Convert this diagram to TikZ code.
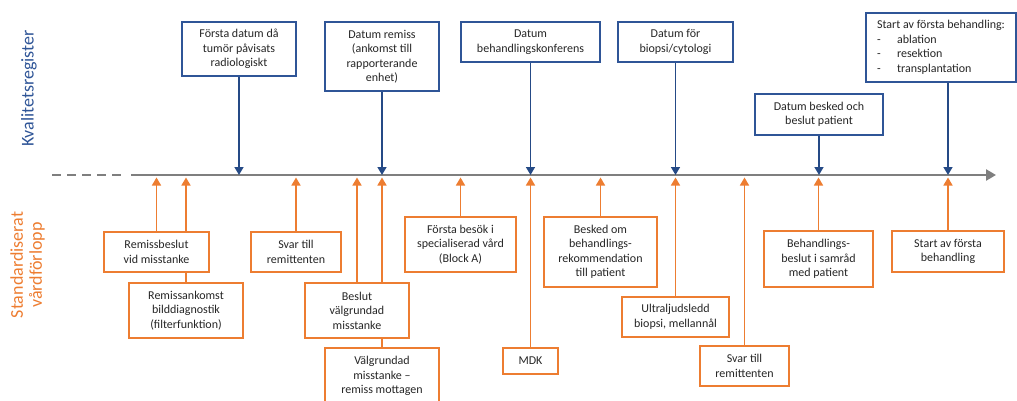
\documentclass[tikz,border=0pt]{standalone}
\usepackage{fontspec}
\setmainfont{Carlito}
\usetikzlibrary{arrows.meta}
\definecolor{oc}{HTML}{ED7D31}
\definecolor{bc}{HTML}{2F5597}
\definecolor{ba}{HTML}{254A86}
\definecolor{axc}{HTML}{7F7F7F}
\definecolor{tx}{HTML}{262626}
\pgfdeclarelayer{bg}
\pgfsetlayers{bg,main}
\begin{document}
\begin{tikzpicture}[x=1pt,y=-1pt,
  font=\fontsize{12}{14.5}\selectfont,
  tbox/.style={draw=bc, line width=1.5pt, fill=white, align=center, inner sep=0pt, text=tx},
  obox/.style={draw=oc, line width=1.5pt, fill=white, align=center, inner sep=0pt, text=tx},
  barrow/.style={draw=ba, line width=1.5pt, -{Triangle[length=8pt,width=9pt]}},
  oarrow/.style={draw=oc, line width=1.5pt, -{Triangle[length=8pt,width=9pt]}, shorten >=2.5pt},
  axisline/.style={draw=axc, line width=2.6pt},
  biglabel/.style={rotate=90, align=center, font=\fontsize{18}{19}\selectfont}
]
\useasboundingbox (0,0) rectangle (1017,401);

% axis coordinates
\coordinate (dA) at (52,175);
\coordinate (dB) at (122,175);
\coordinate (axL) at (131,175);
\coordinate (axR) at (996,175);

% side labels
\node[biglabel, text=bc] (kr) at (29,88.5) {Kvalitetsregister};
\node[biglabel, text=oc] (sv) at (27.5,265) {Standardiserat\\vårdförlopp};

% top boxes
\node[tbox, minimum width=114pt, minimum height=54pt] (t1) at (239,49) {Första datum då\\tumör påvisats\\radiologiskt};
\node[tbox, minimum width=114pt, minimum height=69pt] (t2) at (382,56.5) {Datum remiss\\(ankomst till\\rapporterande\\enhet)};
\node[tbox, minimum width=139pt, minimum height=40pt] (t3) at (530.5,42) {Datum\\behandlingskonferens};
\node[tbox, minimum width=115pt, minimum height=40pt] (t4) at (675.5,42) {Datum för\\biopsi/cytologi};
\node[tbox, minimum width=128pt, minimum height=41pt] (t5) at (819,114.5) {Datum besked och\\beslut patient};
\node[tbox, minimum width=150pt, minimum height=69pt, align=left] (t6) at (941,47.5) {Start av första behandling:\\\makebox[20pt][l]{-}ablation\\\makebox[20pt][l]{-}resektion\\\makebox[20pt][l]{-}transplantation};

% bottom boxes
\node[obox, minimum width=105pt, minimum height=40pt] (a) at (156.5,252) {Remissbeslut\\vid misstanke};
\node[obox, minimum width=114pt, minimum height=55pt] (b) at (186,310.5) {Remissankomst\\bilddiagnostik\\(filterfunktion)};
\node[obox, minimum width=90pt, minimum height=40pt] (c) at (296,252) {Svar till\\remittenten};
\node[obox, minimum width=104pt, minimum height=55pt] (d) at (357,310.5) {Beslut\\välgrundad\\misstanke};
\node[obox, minimum width=114pt, minimum height=56pt] (e) at (382,376) {Välgrundad\\misstanke –\\remiss mottagen};
\node[obox, minimum width=111pt, minimum height=55pt] (f) at (460.5,244.5) {Första besök i\\specialiserad vård\\(Block A)};
\node[obox, minimum width=55pt, minimum height=26pt] (g) at (530.5,361) {MDK};
\node[obox, minimum width=113pt, minimum height=70pt] (h) at (600.5,252) {Besked om\\behandlings-\\rekommendation\\till patient};
\node[obox, minimum width=107pt, minimum height=40pt] (i) at (675.5,317) {Ultraljudsledd\\biopsi, mellannål};
\node[obox, minimum width=89pt, minimum height=40pt] (j) at (744.5,366) {Svar till\\remittenten};
\node[obox, minimum width=109pt, minimum height=56pt] (k) at (818.5,259) {Behandlings-\\beslut i samråd\\med patient};
\node[obox, minimum width=112pt, minimum height=41pt] (l) at (948,251.5) {Start av första\\behandling};

\begin{pgfonlayer}{bg}
  % axis
  \draw[axisline, dash pattern=on 9pt off 6pt] (dA) -- (dB);
  \draw[axisline, -{Triangle[length=10pt,width=11pt]}] (axL) -- (axR);
  % blue arrows
  \foreach \n in {t1,t2,t3,t4,t5}
    \draw[barrow] (\n.south) -- (\n.south |- axL);
  \draw[barrow] ([xshift=7pt]t6.south) -- ([xshift=7pt]t6.south |- axL);
  % orange arrows
  \foreach \n in {a,b,c,d,e,f,g,h,i,j,k,l}
    \draw[oarrow] (\n.north) -- (\n.north |- axL);
\end{pgfonlayer}
\end{tikzpicture}
\end{document}
